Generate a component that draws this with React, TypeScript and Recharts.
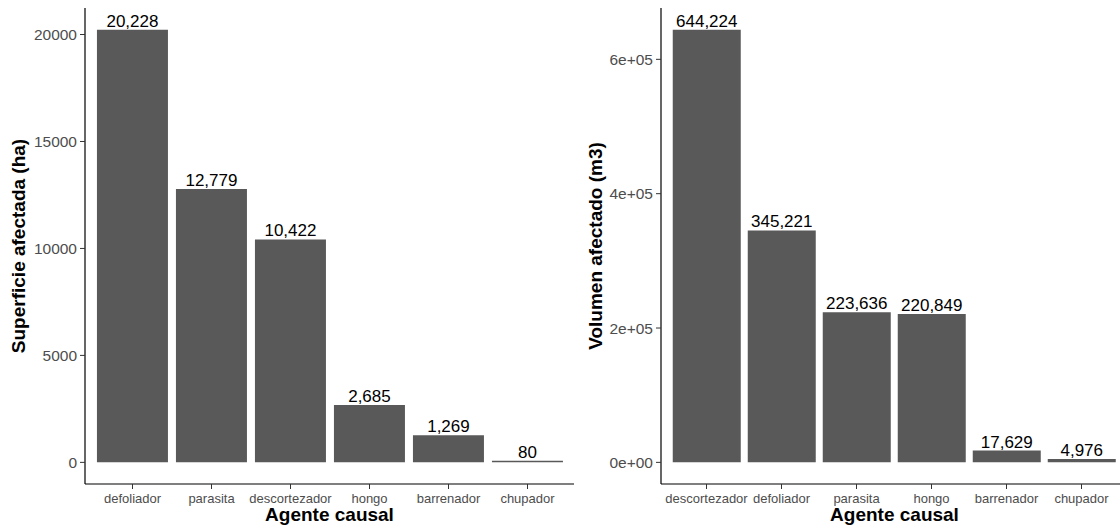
import React from "react";
import { BarChart, Bar, XAxis, YAxis, LabelList } from "recharts";

// left panel: surface
const areaAgents = ["defoliador", "parasita", "descortezador", "hongo", "barrenador", "chupador"];
const areaValues = [20228, 12779, 10422, 2685, 1269, 80];
const areaTicks = [0, 5000, 10000, 15000, 20000];

// right panel: volume
const volAgents = ["descortezador", "defoliador", "parasita", "hongo", "barrenador", "chupador"];
const volValues = [644224, 345221, 223636, 220849, 17629, 4976];
const volTicks = [0, 200000, 400000, 600000];

const FONT = "'Liberation Sans', Arial, sans-serif";
const BAR = "#595959";
const TICK_TXT = "#4D4D4D";

const sci = (v: number) => {
  if (v === 0) return "0e+00";
  const e = Math.floor(Math.log10(Math.abs(v)));
  const m = v / Math.pow(10, e);
  return `${m}e+${String(e).padStart(2, "0")}`;
};

const fmt = (v: any) => Number(v).toLocaleString("en-US");

interface PanelProps {
  agents: string[];
  values: number[];
  ticks: number[];
  width: number;
  yAxisWidth: number;
  yLabel: string;
  yLabelOffset: number;
  tickFormatter?: (v: number) => string;
  padLeft: number;
  padRight: number;
}

const Panel = ({ agents, values, ticks, width, yAxisWidth, yLabel, yLabelOffset, tickFormatter, padLeft, padRight }: PanelProps) => {
  const data = agents.map((a, i) => ({ agent: a, value: values[i] }));
  const max = Math.max(...values);
  const pad = max * 0.05;
  return (
    <BarChart
      width={width}
      height={529}
      data={data}
      margin={{ top: 8, right: 0, left: 0, bottom: 0 }}
      barCategoryGap="5%"
      style={{ fontFamily: FONT }}
    >
      <XAxis
        dataKey="agent"
        height={45}
        padding={{ left: padLeft, right: padRight }}
        axisLine={{ stroke: "#000", strokeWidth: 1.2 }}
        tickLine={{ stroke: "#333", strokeWidth: 1 }}
        tickSize={5}
        tickMargin={5}
        interval={0}
        tick={{ fill: TICK_TXT, fontSize: 13 }}
        label={{ value: "Agente causal", position: "insideBottom", offset: 8, fill: "#000", fontSize: 19, fontWeight: "bold" }}
      />
      <YAxis
        type="number"
        width={yAxisWidth}
        domain={[-pad, max + pad]}
        allowDataOverflow
        ticks={ticks}
        tickFormatter={tickFormatter}
        axisLine={{ stroke: "#000", strokeWidth: 1.2 }}
        tickLine={{ stroke: "#333", strokeWidth: 1 }}
        tickSize={5}
        tickMargin={3}
        tick={{ fill: TICK_TXT, fontSize: 15.5 }}
        label={{
          value: yLabel,
          angle: -90,
          position: "insideLeft",
          offset: yLabelOffset,
          fill: "#000",
          fontSize: 19,
          fontWeight: "bold",
          style: { textAnchor: "middle" },
        }}
      />
      <Bar dataKey="value" fill={BAR} isAnimationActive={false}>
        <LabelList dataKey="value" position="top" offset={3} formatter={fmt} fill="#000" fontSize={17} />
      </Bar>
    </BarChart>
  );
};

export default function App() {
  return (
    <div style={{ position: "absolute", left: 0, top: 0, width: 1120, height: 529, overflow: "hidden", background: "#fff" }}>
      <div style={{ position: "absolute", left: 0, top: 0 }}>
        <Panel
          agents={areaAgents}
          values={areaValues}
          ticks={areaTicks}
          width={574}
          yAxisWidth={85}
          yLabel="Superficie afectada (ha)"
          yLabelOffset={18}
          padLeft={8}
          padRight={7}
        />
      </div>
      <div style={{ position: "absolute", left: 580, top: 0 }}>
        <Panel
          agents={volAgents}
          values={volValues}
          ticks={volTicks}
          width={548}
          yAxisWidth={81}
          yLabel="Volumen afectado (m3)"
          yLabelOffset={15}
          tickFormatter={sci}
          padLeft={8}
          padRight={9}
        />
      </div>
    </div>
  );
}
